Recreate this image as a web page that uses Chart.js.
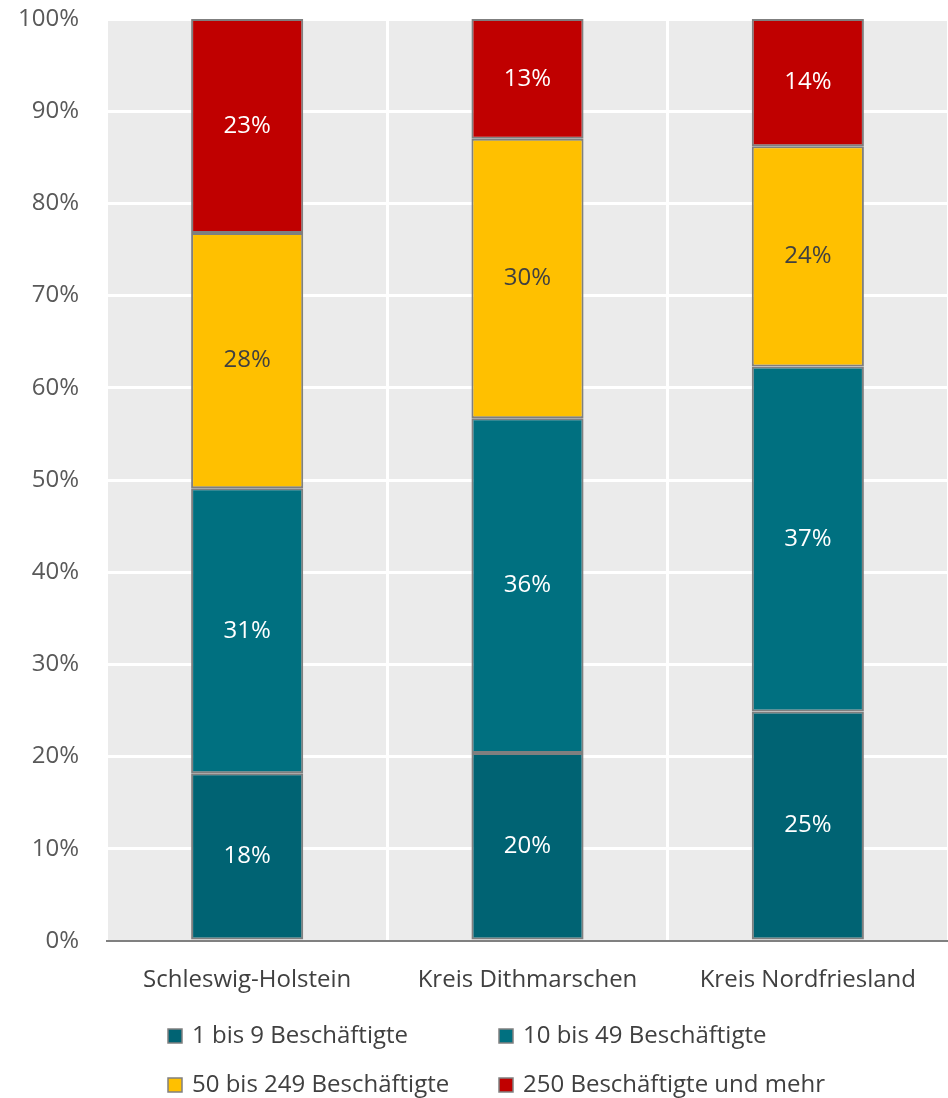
<!DOCTYPE html>
<html lang="de">
<head>
<meta charset="utf-8">
<title>Betriebe nach Beschäftigtengrößenklassen</title>
<script src="https://cdn.jsdelivr.net/npm/chart.js@4/dist/chart.umd.min.js"></script>
<style>
  html, body { margin: 0; padding: 0; background: #ffffff; }
  #wrap { width: 948px; height: 1098px; position: relative; }
</style>
</head>
<body>
<div id="wrap"><canvas id="chart"></canvas></div>
<script>
// Regions shown on the x axis
const categories = ['Schleswig-Holstein', 'Kreis Dithmarschen', 'Kreis Nordfriesland'];

// Size classes (legend order) and their shares in percent per region
const seriesNames = ['1 bis 9 Beschäftigte', '10 bis 49 Beschäftigte', '50 bis 249 Beschäftigte', '250 Beschäftigte und mehr'];
const share1to9     = [18.2, 20.4, 24.9];
const share10to49   = [30.9, 36.3, 37.4];
const share50to249  = [27.7, 30.3, 23.9];
const share250plus  = [23.2, 13.0, 13.8];

// Y axis ticks in percent
const yTicks = [0, 10, 20, 30, 40, 50, 60, 70, 80, 90, 100];

const seriesValues = [share1to9, share10to49, share50to249, share250plus];
const fills = ['#006373', '#007080', '#ffc000', '#c00000'];
const labelColors = ['#ffffff', '#ffffff', '#404040', '#ffffff'];
const FONT = "'Open Sans', 'Noto Sans', sans-serif";

// Grey plot background behind the grid
const plotBackground = {
  id: 'plotBackground',
  beforeDraw(chart) {
    const { ctx, chartArea: a } = chart;
    ctx.save();
    ctx.fillStyle = '#ebebeb';
    ctx.fillRect(a.left, a.top, a.right - a.left, a.bottom - a.top);
    ctx.restore();
  }
};

// Percentage labels centred in every segment
const segmentLabels = {
  id: 'segmentLabels',
  afterDatasetsDraw(chart) {
    const { ctx } = chart;
    ctx.save();
    ctx.font = '400 24px ' + FONT;
    ctx.textAlign = 'center';
    ctx.textBaseline = 'middle';
    chart.data.datasets.forEach((ds, di) => {
      const meta = chart.getDatasetMeta(di);
      meta.data.forEach((bar, i) => {
        const p = bar.getProps(['x', 'y', 'base'], true);
        ctx.fillStyle = labelColors[di];
        ctx.fillText(Math.round(ds.data[i]) + '%', p.x, (p.y + p.base) / 2);
      });
    });
    ctx.restore();
  }
};

// Two-column legend below the axis
const gridLegend = {
  id: 'gridLegend',
  afterDraw(chart) {
    const { ctx } = chart;
    const colX = [168, 499];
    const rowY = [1036, 1085];
    ctx.save();
    ctx.font = '400 24px ' + FONT;
    ctx.textBaseline = 'middle';
    ctx.textAlign = 'left';
    chart.data.datasets.forEach((ds, i) => {
      const x = colX[i % 2];
      const y = rowY[Math.floor(i / 2)];
      ctx.fillStyle = ds.backgroundColor;
      ctx.fillRect(x, y - 7, 14, 14);
      ctx.strokeStyle = '#808080';
      ctx.lineWidth = 1.5;
      ctx.strokeRect(x, y - 7, 14, 14);
      ctx.fillStyle = '#404040';
      ctx.fillText(ds.label, x + 24, y);
    });
    ctx.restore();
  }
};

const datasets = seriesNames.map((name, i) => ({
  label: name,
  data: seriesValues[i],
  backgroundColor: fills[i],
  borderColor: '#7f7f7f',
  borderWidth: 2,
  borderSkipped: false,
  categoryPercentage: 1,
  barPercentage: 0.4
}));

new Chart(document.getElementById('chart'), {
  type: 'bar',
  data: { labels: categories, datasets },
  plugins: [plotBackground, segmentLabels, gridLegend],
  options: {
    responsive: true,
    maintainAspectRatio: false,
    animation: false,
    layout: { padding: { top: 19, right: 0, bottom: 97, left: 0 } },
    plugins: {
      legend: { display: false },
      tooltip: { enabled: false }
    },
    scales: {
      x: {
        stacked: true,
        grid: { color: '#ffffff', lineWidth: 3, drawTicks: false, offset: true },
        border: { display: true, color: '#808080', width: 2 },
        ticks: { color: '#404040', font: { family: FONT, size: 24 }, padding: 25 },
        afterFit(scale) { scale.height = 60; }
      },
      y: {
        stacked: true,
        min: 0,
        max: 100,
        afterBuildTicks(scale) { scale.ticks = yTicks.map(v => ({ value: v })); },
        grid: { color: '#ffffff', lineWidth: 3, drawTicks: false },
        border: { display: false },
        ticks: {
          color: '#595959',
          font: { family: FONT, size: 24 },
          padding: 28,
          callback: v => v + '%'
        },
        afterFit(scale) {
          scale.width = 107;
          scale.paddingTop = 0;
          scale.paddingBottom = 0;
        }
      }
    }
  }
});
</script>
</body>
</html>
